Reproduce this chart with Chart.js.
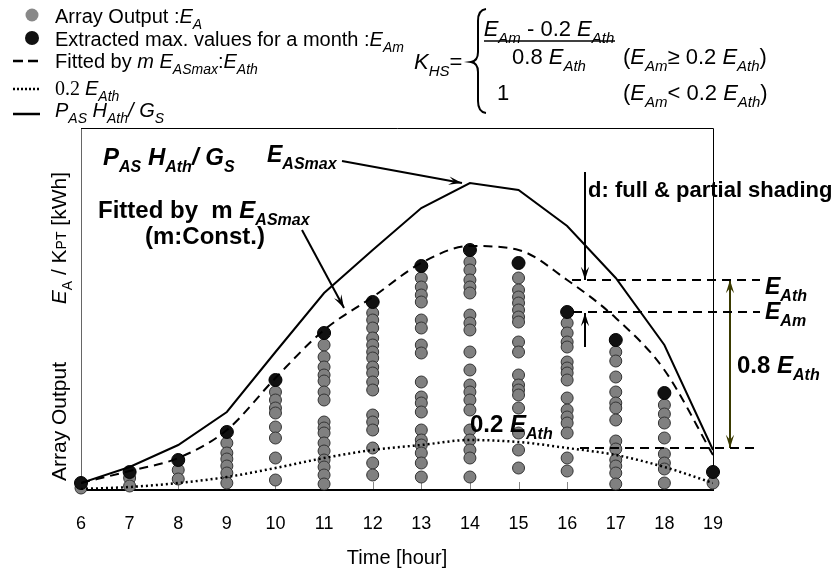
<!DOCTYPE html>
<html lang="en">
  <head>
    <meta charset="UTF-8" />
    <title>Array Output vs Time</title>
    <style>
      body { margin: 0; background: #fff; }
    </style>
  </head>
  <body>
    <canvas id="shadeChart" width="840" height="578"></canvas>
    <script src="https://cdn.jsdelivr.net/npm/chart.js"></script>
    <script>
      const hours = [6, 7, 8, 9, 10, 11, 12, 13, 14, 15, 16, 17, 18, 19];
      // P_AS H_Ath / G_S (E_ASmax)
      const pasLine = [7, 23, 45, 78, 138, 197, 240, 282, 307, 300, 264, 212, 145, 40];
      // fitted by m E_ASmax : E_Ath
      const fittedEath = [7, 19, 32, 60, 112, 160, 193, 227, 244, 240, 210, 172, 120, 35];
      // 0.2 E_Ath
      const eath02 = [1, 3, 7, 13, 22, 32, 40, 45, 50, 48, 42, 35, 23, 7];
      // extracted max. values for a month : E_Am
      const extractedMax = [7, 18, 30, 58, 110, 157, 188, 224, 240, 227, 178, 150, 97, 18];
      // array output E_A, one list per hour
      const arrayOutput = [
        [2],
        [12, 4],
        [20, 11],
        [47, 37, 31, 24, 17, 7],
        [98, 90, 82, 77, 63, 52, 32, 10],
        [145, 133, 123, 115, 109, 98, 90, 68, 62, 57, 47, 39, 30, 23, 15, 6],
        [177, 170, 162, 152, 145, 138, 132, 123, 117, 108, 100, 75, 68, 60, 42, 27, 15],
        [212, 203, 195, 188, 170, 162, 145, 137, 108, 93, 87, 78, 60, 50, 45, 37, 27, 13],
        [228, 220, 210, 203, 197, 175, 167, 160, 138, 120, 105, 98, 90, 80, 60, 50, 40, 32, 13],
        [212, 200, 193, 187, 180, 173, 168, 148, 138, 115, 105, 100, 95, 82, 57, 40, 22],
        [167, 157, 148, 143, 128, 122, 117, 110, 92, 80, 73, 67, 57, 32, 19],
        [138, 129, 113, 98, 87, 82, 70, 49, 41, 30, 24, 17, 6],
        [85, 76, 67, 52, 36, 27, 21, 7],
        [7],
      ];
      const guideHour = 16;

      const SANS = '"Liberation Sans", Arial, sans-serif';
      const SERIF = '"Liberation Serif", "Times New Roman", serif';

      const toPts = (vals) => vals.map((v, i) => ({ x: hours[i], y: v }));
      const grayPts = [];
      arrayOutput.forEach((list, i) => list.forEach((v) => grayPts.push({ x: hours[i], y: v })));

      // rich text: flags i=italic b=bold s=subscript c=small r=serif
      function rich(ctx, x, y, runs, size, align) {
        const fontOf = (f) => {
          const sz = f.includes('s') || f.includes('c') ? Math.round(size * 0.68) : size;
          const fam = f.includes('r') ? SERIF : SANS;
          return (f.includes('i') ? 'italic ' : '') + (f.includes('b') ? 'bold ' : '') + sz + 'px ' + fam;
        };
        let w = 0;
        runs.forEach(([t, f = '']) => {
          ctx.font = fontOf(f);
          w += ctx.measureText(t).width;
        });
        let cx = x;
        if (align === 'center') cx = x - w / 2;
        if (align === 'right') cx = x - w;
        ctx.textAlign = 'left';
        ctx.textBaseline = 'alphabetic';
        runs.forEach(([t, f = '']) => {
          ctx.font = fontOf(f);
          ctx.fillText(t, cx, y + (f.includes('s') ? size * 0.3 : 0));
          cx += ctx.measureText(t).width;
        });
        return w;
      }

      function arrow(ctx, x1, y1, x2, y2, color, both) {
        ctx.save();
        ctx.strokeStyle = color;
        ctx.fillStyle = color;
        ctx.lineWidth = 2;
        ctx.setLineDash([]);
        ctx.beginPath();
        ctx.moveTo(x1, y1);
        ctx.lineTo(x2, y2);
        ctx.stroke();
        const head = (ax, ay, bx, by) => {
          const a = Math.atan2(by - ay, bx - ax);
          ctx.beginPath();
          ctx.moveTo(bx, by);
          ctx.lineTo(bx - 14 * Math.cos(a - 0.3), by - 14 * Math.sin(a - 0.3));
          ctx.lineTo(bx - 8 * Math.cos(a), by - 8 * Math.sin(a));
          ctx.lineTo(bx - 14 * Math.cos(a + 0.3), by - 14 * Math.sin(a + 0.3));
          ctx.closePath();
          ctx.fill();
        };
        head(x1, y1, x2, y2);
        if (both) head(x2, y2, x1, y1);
        ctx.restore();
      }

      const framePlugin = {
        id: 'frame',
        beforeDatasetsDraw(chart) {
          const { ctx, chartArea: a, scales } = chart;
          ctx.save();
          ctx.strokeStyle = '#888';
          ctx.lineWidth = 1;
          hours.forEach((h) => {
            const px = Math.round(scales.x.getPixelForValue(h)) + 0.5;
            ctx.beginPath();
            ctx.moveTo(px, a.bottom);
            ctx.lineTo(px, a.bottom - 8);
            ctx.stroke();
          });
          ctx.strokeStyle = '#666';
          ctx.beginPath();
          ctx.moveTo(a.left + 0.5, a.bottom);
          ctx.lineTo(a.left + 0.5, a.top + 0.5);
          ctx.stroke();
          ctx.strokeStyle = '#000';
          ctx.beginPath();
          ctx.moveTo(a.left, a.top + 0.5);
          ctx.lineTo(a.right + 0.5, a.top + 0.5);
          ctx.lineTo(a.right + 0.5, a.bottom);
          ctx.stroke();
          ctx.lineWidth = 2;
          ctx.beginPath();
          ctx.moveTo(a.left, a.bottom);
          ctx.lineTo(a.right + 1, a.bottom);
          ctx.stroke();
          ctx.restore();
        },
        afterDraw(chart) {
          const { ctx, scales } = chart;
          const gi = hours.indexOf(guideHour);
          const yAth = scales.y.getPixelForValue(fittedEath[gi]);
          const yAm = scales.y.getPixelForValue(extractedMax[gi]);
          const y02 = scales.y.getPixelForValue(eath02[gi]);
          ctx.save();

          // legend
          ctx.fillStyle = '#888';
          ctx.beginPath();
          ctx.arc(32, 15, 6.5, 0, Math.PI * 2);
          ctx.fill();
          ctx.fillStyle = '#111';
          ctx.beginPath();
          ctx.arc(32, 38, 7, 0, Math.PI * 2);
          ctx.fill();
          ctx.strokeStyle = '#000';
          ctx.lineWidth = 2.5;
          ctx.setLineDash([10, 5]);
          ctx.beginPath();
          ctx.moveTo(13, 61);
          ctx.lineTo(40, 61);
          ctx.stroke();
          ctx.setLineDash([2, 2]);
          ctx.beginPath();
          ctx.moveTo(13, 89);
          ctx.lineTo(40, 89);
          ctx.stroke();
          ctx.setLineDash([]);
          ctx.beginPath();
          ctx.moveTo(13, 114);
          ctx.lineTo(40, 114);
          ctx.stroke();

          ctx.fillStyle = '#000';
          rich(ctx, 55, 23, [['Array Output :'], ['E', 'i'], ['A', 'is']], 20);
          rich(ctx, 55, 46, [['Extracted max. values for a month :'], ['E', 'i'], ['Am', 'is']], 20);
          rich(ctx, 55, 68, [['Fitted by '], ['m', 'i'], [' E', 'i'], ['ASmax', 'is'], [':'], ['E', 'i'], ['Ath', 'is']], 20);
          rich(ctx, 55, 95, [['0.2 ', 'r'], ['E', 'i'], ['Ath', 'is']], 20);
          rich(ctx, 55, 117, [['P', 'i'], ['AS', 'is'], [' H', 'i'], ['Ath', 'is'], ['/ G', 'i'], ['S', 'is']], 20);

          // formula
          rich(ctx, 414, 69, [['K', 'i'], ['HS', 'is'], ['=']], 22);
          ctx.lineWidth = 2;
          ctx.beginPath();
          ctx.moveTo(486, 9);
          ctx.quadraticCurveTo(478, 10, 478, 21);
          ctx.lineTo(478, 52);
          ctx.quadraticCurveTo(478, 61, 471, 62);
          ctx.quadraticCurveTo(478, 63, 478, 72);
          ctx.lineTo(478, 101);
          ctx.quadraticCurveTo(478, 112, 486, 113);
          ctx.stroke();
          rich(ctx, 549, 36, [['E', 'i'], ['Am', 'is'], [' - 0.2 '], ['E', 'i'], ['Ath', 'is']], 22, 'center');
          ctx.lineWidth = 1.5;
          ctx.beginPath();
          ctx.moveTo(484, 41);
          ctx.lineTo(615, 41);
          ctx.stroke();
          rich(ctx, 549, 64, [['0.8 '], ['E', 'i'], ['Ath', 'is']], 22, 'center');
          rich(ctx, 623, 64, [['('], ['E', 'i'], ['Am', 'is'], ['\u2265 0.2 '], ['E', 'i'], ['Ath', 'is'], [')']], 22);
          rich(ctx, 497, 100, [['1']], 22);
          rich(ctx, 623, 100, [['('], ['E', 'i'], ['Am', 'is'], ['< 0.2 '], ['E', 'i'], ['Ath', 'is'], [')']], 22);

          // y axis title
          ctx.save();
          ctx.translate(66, 0);
          ctx.rotate(-Math.PI / 2);
          rich(ctx, -481, 0, [['Array Output']], 21);
          rich(ctx, -172, 0, [['E', 'i'], ['A', 's'], [' / K'], ['PT', 'c'], [' [kWh]']], 21, 'right');
          ctx.restore();

          // annotations
          rich(ctx, 103, 165, [['P', 'bi'], ['AS', 'bis'], [' H', 'bi'], ['Ath', 'bis'], ['/ G', 'bi'], ['S', 'bis']], 24);
          rich(ctx, 267, 162, [['E', 'bi'], ['ASmax', 'bis']], 23);
          rich(ctx, 98, 218, [['Fitted by  m ', 'b'], ['E', 'bi'], ['ASmax', 'bis']], 24);
          rich(ctx, 145, 244, [['(m:Const.)', 'b']], 24);
          rich(ctx, 588, 197, [['d: full & partial shading', 'b']], 22);
          rich(ctx, 765, yAth + 14, [['E', 'bi'], ['Ath', 'bis']], 23);
          rich(ctx, 765, yAm + 7, [['E', 'bi'], ['Am', 'bis']], 23);
          rich(ctx, 737, 373, [['0.8 ', 'b'], ['E', 'bi'], ['Ath', 'bis']], 24);
          rich(ctx, 470, 432, [['0.2 ', 'b'], ['E', 'bi'], ['Ath', 'bis']], 24);

          arrow(ctx, 342, 161, 462, 183, '#000');
          arrow(ctx, 302, 230, 344, 308, '#000');
          arrow(ctx, 585, 172, 585, yAth, '#000');
          arrow(ctx, 585, 347, 585, yAm + 1, '#000');
          arrow(ctx, 730, y02, 730, yAth, '#3a3a00', true);

          ctx.strokeStyle = '#000';
          ctx.lineWidth = 2;
          ctx.setLineDash([9, 6]);
          [[yAth, 572], [yAm, 573], [y02, 580]].forEach(([gy, x0]) => {
            ctx.beginPath();
            ctx.moveTo(x0, gy);
            ctx.lineTo(760, gy);
            ctx.stroke();
          });
          ctx.restore();
        },
      };

      const context = document.getElementById('shadeChart').getContext('2d');
      const chart = new Chart(context, {
        type: 'scatter',
        data: {
          datasets: [
            {
              label: 'P_AS H_Ath / G_S',
              type: 'line',
              data: toPts(pasLine),
              borderColor: '#000',
              borderWidth: 2,
              pointRadius: 0,
              tension: 0,
              order: 0,
            },
            {
              label: 'Fitted by m E_ASmax',
              type: 'line',
              data: toPts(fittedEath),
              borderColor: '#000',
              borderWidth: 2,
              borderDash: [9, 6],
              pointRadius: 0,
              cubicInterpolationMode: 'monotone',
              order: 0,
            },
            {
              label: '0.2 E_Ath',
              type: 'line',
              data: toPts(eath02),
              borderColor: '#000',
              borderWidth: 2.5,
              borderDash: [2, 3],
              pointRadius: 0,
              cubicInterpolationMode: 'monotone',
              order: 0,
            },
            {
              label: 'Extracted max. values for a month',
              data: toPts(extractedMax),
              backgroundColor: '#111',
              borderColor: '#000',
              borderWidth: 1,
              pointRadius: 6.5,
              clip: false,
              order: 1,
            },
            {
              label: 'Array Output',
              data: grayPts,
              backgroundColor: '#808080',
              borderColor: '#333',
              borderWidth: 1,
              pointRadius: 6,
              clip: false,
              order: 2,
            },
          ],
        },
        options: {
          responsive: false,
          animation: false,
          devicePixelRatio: 1,
          layout: { padding: { left: 81, right: 127, top: 128, bottom: 0 } },
          plugins: { legend: { display: false }, tooltip: { enabled: false } },
          scales: {
            x: {
              type: 'linear',
              min: 6,
              max: 19,
              grid: { display: false },
              border: { display: false },
              ticks: {
                stepSize: 1,
                color: '#000',
                padding: 15,
                font: { family: SANS, size: 18 },
              },
              title: {
                display: true,
                text: 'Time [hour]',
                color: '#000',
                font: { family: SANS, size: 20 },
                padding: { top: 0, bottom: 8 },
              },
              afterFit: (s) => {
                s.height = 88;
              },
            },
            y: {
              display: false,
              min: 0,
              max: 362,
            },
          },
        },
        plugins: [framePlugin],
      });
    </script>
  </body>
</html>
